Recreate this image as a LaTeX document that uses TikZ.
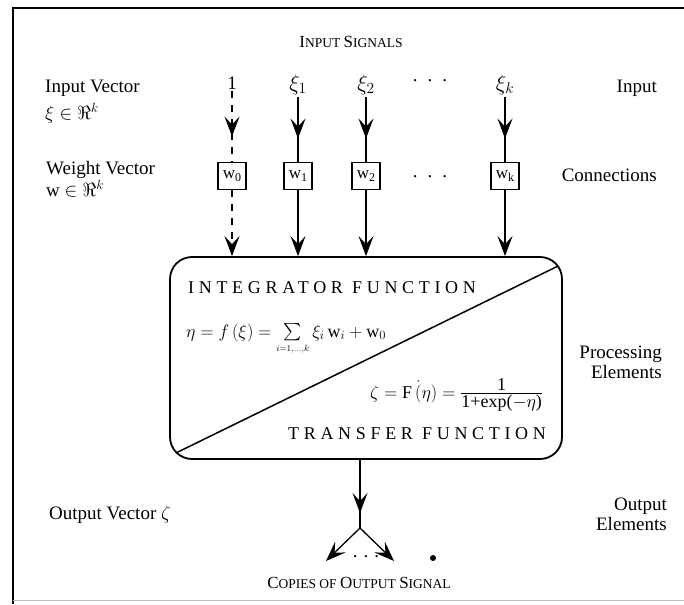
\RequirePackage{fix-cm}
\documentclass[tikz,border=0pt]{standalone}
\usepackage{amsmath}
\usepackage{fontspec}
\setmainfont{Liberation Serif}
\newfontfamily\spacedfont[LetterSpace=26]{Liberation Serif}
\usetikzlibrary{arrows.meta,decorations.markings,calc}
\newcommand\capA{\fontsize{17}{20}\selectfont}
\newcommand\capB{\fontsize{13.5}{20}\selectfont}
\newcommand\wsub[1]{w\raisebox{-0.35ex}{\fontsize{12}{12}\selectfont #1}}
\newcommand\fracpart[1]{\mbox{\fontsize{18}{18}\selectfont #1}}
\tikzset{
  tipstyle/.tip={Stealth[length=20pt,width=15pt,inset=8pt]},
  lab/.style={inner sep=2pt,font=\fontsize{19}{20}\selectfont},
  glab/.style={inner sep=2pt,font=\fontsize{22}{22}\selectfont},
  side/.style={inner sep=0pt,font=\fontsize{19}{20}\selectfont,align=right},
  sideL/.style={inner sep=0pt,font=\fontsize{19}{20}\selectfont,align=left},
  wbox/.style={draw,line width=1.2pt,minimum width=28pt,minimum height=27pt,inner sep=0pt,font=\fontsize{17}{17}\selectfont},
  conn/.style={line width=1.3pt},
  midarrow/.style={postaction={decorate},decoration={markings,mark=at position #1 with {\arrow{tipstyle}}}},
  endarrow/.style={-{tipstyle}},
  dashline/.style={dash pattern=on 7pt off 7pt},
  caps/.style={inner sep=0pt,font=\fontsize{18}{20}\spacedfont},
}
\begin{document}
\begin{tikzpicture}[x=1pt,y=-1pt]
\useasboundingbox (0,0) rectangle (684,604);
% frame
\draw[line width=2.2pt] (684,8) -- (13,8) -- (13,604);
\draw[line width=0.8pt,black!25] (13,600) -- (684,600);

% headings
\node[inner sep=0pt] (insig) at (351,42) {\capA I\capB NPUT \capA S\capB IGNALS};

% left labels
\node[sideL,anchor=west] (ivec) at (45,88) {Input Vector};
\node[sideL,anchor=west] (ivec2) at (45,113) {$\xi\in\Re^{k}$};
\node[sideL,anchor=west] (wvec) at (46,170) {Weight Vector};
\node[sideL,anchor=west] (wvec2) at (46,189) {w $\in\Re^{k}$};
\node[sideL,anchor=west] (ovec) at (49,515) {Output Vector $\zeta$};

% right labels
\node[side,anchor=east] (rin) at (657,88) {Input};
\node[side,anchor=east] (rcon) at (657,175) {Connections};
\node[side,anchor=east] (rpe) at (662,362) {Processing\\Elements};
\node[side,anchor=east] (roe) at (667,514) {Output\\Elements};

% inputs
\node[lab] (l0) at (232,83) {1};
\node[glab] (l1) at (298,85) {$\xi_1$};
\node[glab] (l2) at (366,85) {$\xi_2$};
\node[glab] (lk) at (505,85) {$\xi_k$};
\node[lab,anchor=base] (ldots) at (430,82) {.\hspace{10pt}.\hspace{10pt}.};

% weights
\node[wbox] (w0) at (232,176) {\wsub{0}};
\node[wbox] (w1) at (298,176) {\wsub{1}};
\node[wbox] (w2) at (366,176) {\wsub{2}};
\node[wbox] (wk) at (505,176) {\wsub{k}};
\node[lab,anchor=base] (wdots) at (430,177) {.\hspace{10pt}.\hspace{10pt}.};

% processing element
\node[draw,line width=1.8pt,rounded corners=22pt,minimum width=392pt,minimum height=202pt] (pe) at (366,358) {};
\coordinate (d1) at ($(pe.south west)+(7,-7)$);
\coordinate (d2) at ($(pe.north east)+(-5,10)$);
\draw[line width=1.5pt] (d1) -- (d2);

\node[caps,anchor=base west] (intf) at (188,293) {INTEGRATOR FUNCTION};
\node[inner sep=0pt,anchor=base west,font=\fontsize{18}{20}\selectfont] (eta) at (186,337)
  {$\eta = f\,(\xi) = \sum\limits_{\scriptscriptstyle i=1,\ldots,k} \xi_i\, \mathrm{w}_i + \mathrm{w}_0$};
\node[inner sep=0pt,anchor=base west,font=\fontsize{18}{20}\selectfont] (zeta) at (370,398)
  {$\zeta = \mathrm{F}\,\dot{(}\eta) = \frac{\fracpart{1}}{\fracpart{1+exp($-\eta$)}}$};
\node[caps,anchor=base west] (trf) at (288,439) {TRANSFER FUNCTION};

% input connectors
\draw[conn,dashline,midarrow=0.64] (l0.south) -- (w0.north);
\draw[conn,midarrow=0.64] (l1.south) -- (w1.north);
\draw[conn,midarrow=0.64] (l2.south) -- (w2.north);
\draw[conn,midarrow=0.64] (lk.south) -- (wk.north);

\draw[conn,dashline,endarrow] (w0.south) -- (w0.south |- pe.north);
\draw[conn,endarrow] (w1.south) -- (w1.south |- pe.north);
\draw[conn,endarrow] (w2.south) -- (w2.south |- pe.north);
\draw[conn,endarrow] (wk.south) -- (wk.south |- pe.north);

% output
\coordinate (o0) at ($(pe.south)+(-6,0)$);
\coordinate (ob) at (360,528);
\coordinate (oL) at (326,561);
\coordinate (oR) at (394,561);
\draw[conn,midarrow=0.78] (o0) -- (ob);
\draw[conn,endarrow] (ob) -- (oL);
\draw[conn,endarrow] (ob) -- (oR);
\node[lab,anchor=base] (odots) at (366,557) {.\hspace{6pt}.\hspace{6pt}.};
\fill (433,558) circle (3pt);
\node[inner sep=0pt] (copies) at (359,583) {\capA C\capB OPIES OF \capA O\capB UTPUT \capA S\capB IGNAL};
\end{tikzpicture}
\end{document}
